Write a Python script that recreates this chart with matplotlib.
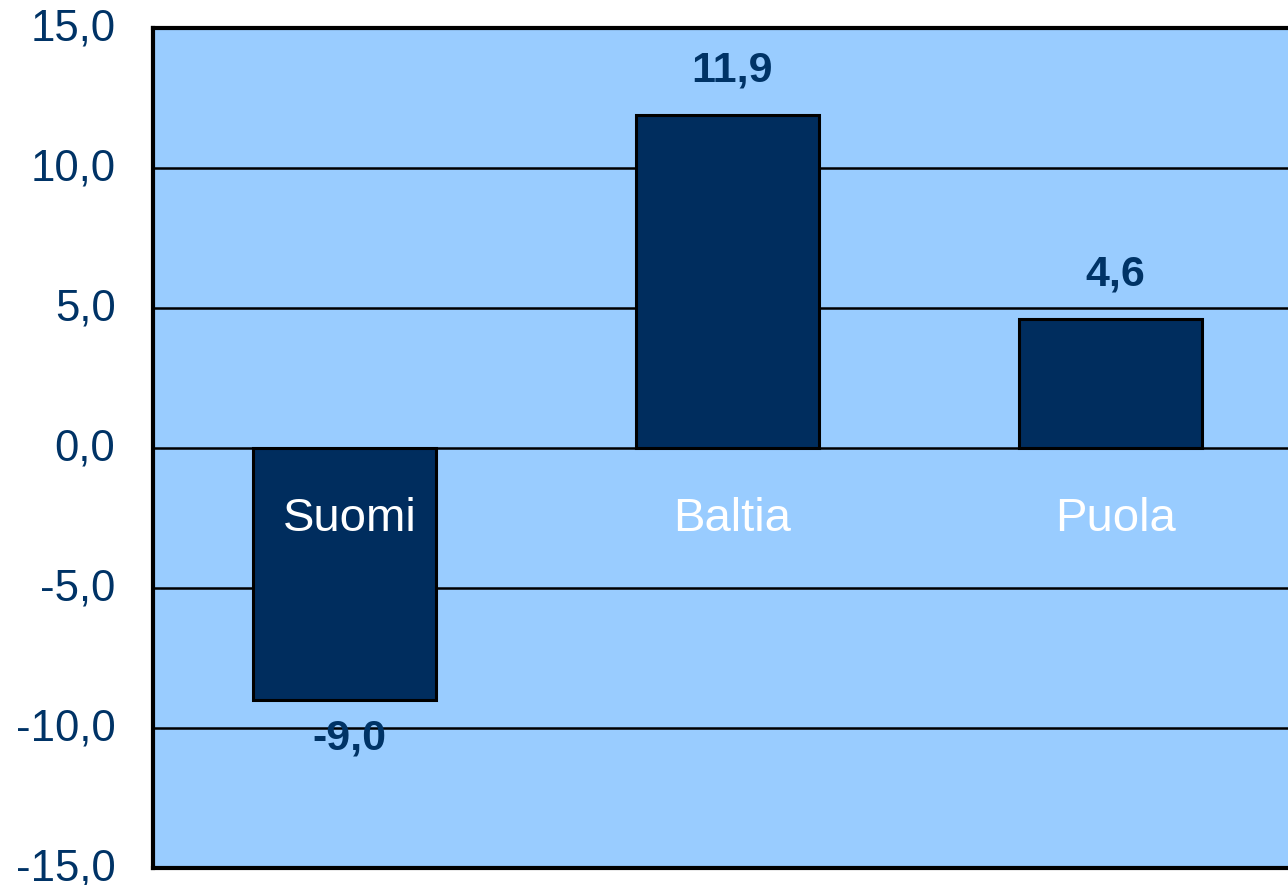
import numpy as np
import matplotlib
matplotlib.use("Agg")
import matplotlib.pyplot as plt
import matplotlib.transforms as mtransforms

# data
categories = ["Suomi", "Baltia", "Puola"]
values = [-9.0, 11.9, 4.6]
yticks = [-15, -10, -5, 0, 5, 10, 15]

plt.rcParams['font.family'] = ['Liberation Sans', 'DejaVu Sans']

navy = "#003366"
bar_col = "#002D5E"
bg = "#99CCFF"

fig = plt.figure(figsize=(12.88, 8.85), dpi=100)
# axes runs past the right edge of the image, like the original crop
ax = fig.add_axes([153 / 1288, (885 - 868) / 885, 1149 / 1288, 840 / 885])
ax.set_facecolor(bg)

x = np.arange(len(categories))
ax.bar(x, values, width=0.478, color=bar_col, edgecolor="black", linewidth=2.2, zorder=3)

ax.set_xlim(-0.5, 2.5)
ax.set_ylim(-15, 15)
ax.set_yticks(yticks)
ax.set_yticklabels([f"{t:.1f}".replace(".", ",") for t in yticks],
                   fontsize=31.5, color=navy)
ax.tick_params(axis="y", length=0, pad=27)
ax.set_xticks([])
# nudge tick labels up a few pixels
shift = mtransforms.ScaledTranslation(0, 4 / 100, fig.dpi_scale_trans)
for lab in ax.get_yticklabels():
    lab.set_transform(lab.get_transform() + shift)

for t in yticks[1:-1]:
    ax.axhline(t, color="black", linewidth=1.8, zorder=2)

for s in ["left", "top", "bottom"]:
    ax.spines[s].set_linewidth(3)
ax.spines["right"].set_visible(False)

# category names inside the plot
for i, name in enumerate(categories):
    ax.text(i + 0.013, -2.55, name, ha="center", va="center",
            fontsize=34, color="white", zorder=5)

# value labels
for i, v in enumerate(values):
    lab = f"{v:.1f}".replace(".", ",")
    off = 32 if v >= 0 else -28
    ax.annotate(lab, (i + 0.013, v), xytext=(0, off), textcoords="offset points",
                ha="center", va="center", fontsize=31, fontweight="bold",
                color=navy, zorder=6)

fig.savefig("out.png", dpi=100)
